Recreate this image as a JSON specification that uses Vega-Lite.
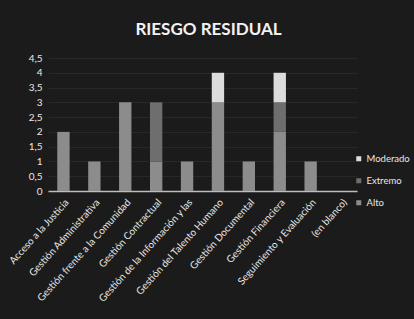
{
  "$schema": "https://vega.github.io/schema/vega-lite/v6.json",
  "autosize": "none",
  "width": 309,
  "height": 133,
  "padding": {"left": 48, "top": 58, "right": 57, "bottom": 128},
  "background": "#1b1b1b",
  "view": {"stroke": null},
  "title": {"text": "RIESGO RESIDUAL", "font": "Lato", "fontSize": 17, "fontWeight": "bold", "color": "#f2f2f2", "offset": 14, "dx": 6},
  "data": {"values": [
    {"area": "Acceso a la Justicia", "nivel": "Alto", "valor": 2},
    {"area": "Gestión Administrativa", "nivel": "Alto", "valor": 1},
    {"area": "Gestión frente a la Comunidad", "nivel": "Alto", "valor": 3},
    {"area": "Gestión Contractual", "nivel": "Alto", "valor": 1},
    {"area": "Gestión Contractual", "nivel": "Extremo", "valor": 2},
    {"area": "Gestión de la Información y las", "nivel": "Alto", "valor": 1},
    {"area": "Gestión del Talento Humano", "nivel": "Alto", "valor": 3},
    {"area": "Gestión del Talento Humano", "nivel": "Moderado", "valor": 1},
    {"area": "Gestión Documental", "nivel": "Alto", "valor": 1},
    {"area": "Gestión Financiera", "nivel": "Alto", "valor": 2},
    {"area": "Gestión Financiera", "nivel": "Extremo", "valor": 1},
    {"area": "Gestión Financiera", "nivel": "Moderado", "valor": 1},
    {"area": "Seguimiento y Evaluación", "nivel": "Alto", "valor": 1},
    {"area": "(en blanco)", "nivel": "Alto", "valor": 0}
  ]},
  "mark": {"type": "bar"},
  "encoding": {
    "x": {
      "field": "area", "type": "nominal", "title": null,
      "sort": ["Acceso a la Justicia", "Gestión Administrativa", "Gestión frente a la Comunidad", "Gestión Contractual", "Gestión de la Información y las", "Gestión del Talento Humano", "Gestión Documental", "Gestión Financiera", "Seguimiento y Evaluación", "(en blanco)"],
      "scale": {"paddingInner": 0.6, "paddingOuter": 0.3},
      "axis": {"labelAngle": -48, "labelAlign": "right", "labelBaseline": "top", "labelFont": "Lato", "labelFontSize": 10, "labelColor": "#e8e8e8", "labelLimit": 200, "ticks": false, "domainColor": "#bdbdbd", "domainWidth": 1.5, "labelPadding": 6}
    },
    "y": {
      "field": "valor", "type": "quantitative", "title": null, "stack": "zero",
      "scale": {"domain": [0, 4.5], "nice": false},
      "axis": {"values": [0, 0.5, 1, 1.5, 2, 2.5, 3, 3.5, 4, 4.5], "format": "~g", "labelExpr": "replace(datum.label, '.', ',')", "labelFont": "Lato", "labelFontSize": 10, "labelColor": "#e8e8e8", "ticks": false, "domain": false, "gridColor": "#333333", "gridWidth": 0.6, "labelPadding": 6}
    },
    "color": {
      "field": "nivel", "type": "nominal", "title": null,
      "scale": {"domain": ["Moderado", "Extremo", "Alto"], "range": ["#dcdcdc", "#6e6e6e", "#8c8c8c"]},
      "legend": {"orient": "none", "legendX": 306, "legendY": 96, "labelFont": "Lato", "labelFontSize": 9.5, "labelColor": "#e8e8e8", "symbolType": "square", "symbolSize": 25, "rowPadding": 11, "labelOffset": 3}
    },
    "order": {"field": "orden", "type": "quantitative"}
  }
}
